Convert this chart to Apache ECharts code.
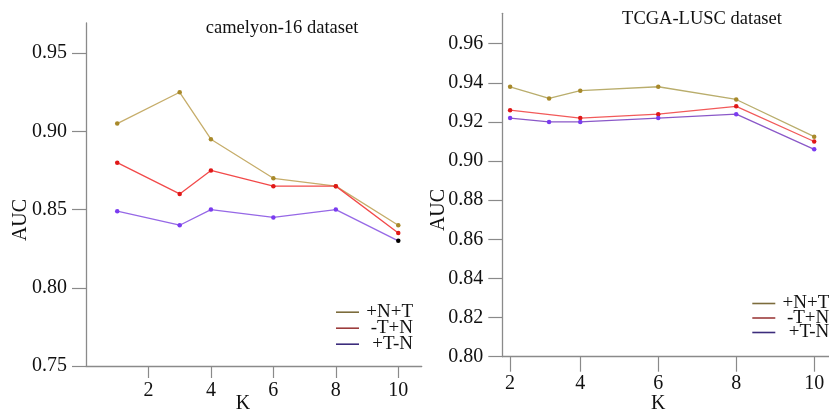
<!DOCTYPE html>
<html><head><meta charset="utf-8">
<script src="https://cdn.jsdelivr.net/npm/echarts@6/dist/echarts.min.js"></script>
<style>html,body{margin:0;padding:0;background:#fff}#c{width:829px;height:409px}</style>
</head><body><div id="c"></div>
<script>
// ---- data ----
const seriesNames = ['+N+T', '-T+N', '+T-N'];
// camelyon-16
const kCam = [1, 3, 4, 6, 8, 10];
const camNT = [0.905, 0.925, 0.895, 0.870, 0.865, 0.840];
const camTN = [0.880, 0.860, 0.875, 0.865, 0.865, 0.835];
const camTmN = [0.849, 0.840, 0.850, 0.845, 0.850, 0.830];
const camYTicks = [0.75, 0.80, 0.85, 0.90, 0.95];
const camXTicks = [2, 4, 6, 8, 10];
// TCGA-LUSC
const kTcga = [2.2, 3.2, 4, 6, 8, 10];
const kTcgaRed = [2.2, 4, 6, 8, 10];
const tcNT = [0.938, 0.932, 0.936, 0.938, 0.9315, 0.9125];
const tcTN = [0.926, 0.922, 0.924, 0.928, 0.910];
const tcTmN = [0.922, 0.920, 0.920, 0.922, 0.924, 0.906];
const tcYTicks = [0.80, 0.82, 0.84, 0.86, 0.88, 0.90, 0.92, 0.94, 0.96];
const tcXTicks = [2.2, 4, 6, 8, 10];
const tcXTickLabels = ['2', '4', '6', '8', '10'];

const pairs = (xs, ys) => xs.map((x, i) => [x, ys[i]]);

const SERIF = 'Liberation Serif';
const axisCol = '#8a8a8a';
const lineCols = ['#c6ad6a', '#f24a4a', '#9668e6'];
const lineColsR = ['#b9ad6c', '#f25a5a', '#8a58c8'];
const markCols = ['#a8892a', '#e01818', '#7a3cf0'];
const legCols = ['#7c6c3c', '#9c3c3c', '#3c2c7c'];

function yAxis(idx, min, max, ticks, gap, padR) {
  return {
    type: 'value', gridIndex: idx, min: min, max: max,
    name: 'AUC', nameLocation: 'middle', nameGap: gap, nameMoveOverlap: false,
    nameTextStyle: { fontFamily: SERIF, fontSize: 20, color: '#111', padding: [0, padR, 0, 0] },
    axisLine: { show: true, lineStyle: { color: axisCol, width: 1.3 } },
    axisTick: { show: true, length: 14, customValues: ticks, lineStyle: { color: axisCol, width: 1.2 } },
    axisLabel: { customValues: ticks, margin: 19, fontFamily: SERIF, fontSize: 20, color: '#111',
      formatter: v => v.toFixed(2) },
    splitLine: { show: false }
  };
}
function xAxis(idx, min, max, ticks, labels, gap, padR, tickLen, margin, fam, fs) {
  return {
    type: 'value', gridIndex: idx, min: min, max: max,
    name: 'K', nameLocation: 'middle', nameGap: gap, nameMoveOverlap: false,
    nameTextStyle: { fontFamily: SERIF, fontSize: 20, color: '#111', padding: [0, padR, 0, 0] },
    axisLine: { show: true, onZero: false, lineStyle: { color: axisCol, width: 1.3 } },
    axisTick: { show: true, length: tickLen, customValues: ticks, lineStyle: { color: axisCol, width: 1.2 } },
    axisLabel: { customValues: ticks, margin: margin, fontFamily: fam, fontSize: fs, color: '#111',
      formatter: v => labels ? labels[ticks.indexOf(v)] : String(v) },
    splitLine: { show: false }
  };
}
function ser(name, xi, data, ci, cols, markFn) {
  return {
    name: name, type: 'line', xAxisIndex: xi, yAxisIndex: xi, data: data,
    symbol: 'circle', symbolSize: 4.5, showSymbol: true,
    lineStyle: { color: cols[ci], width: 1.3 },
    itemStyle: { color: markFn || markCols[ci] },
    emphasis: { disabled: true }, animation: false
  };
}
function legend(left, top, gap) {
  return {
    orient: 'vertical', left: left, top: top, itemWidth: 23, itemHeight: 10, itemGap: gap,
    padding: 0, selectedMode: false,
    data: seriesNames.map((n, i) => ({ name: n, icon: 'path://M0 0H23V1.6H0Z', itemStyle: { color: legCols[i] } })),
    formatter: n => '{r|' + n + '}',
    textStyle: { rich: { r: { width: 49, align: 'right', fontFamily: SERIF, fontSize: 19, lineHeight: 16, color: '#111' } } }
  };
}

const chart = echarts.init(document.getElementById('c'));
chart.setOption({
  animation: false,
  title: [
    { text: 'camelyon-16 dataset', left: 282, top: 19, textAlign: 'center', padding: 0,
      textStyle: { fontFamily: SERIF, fontSize: 18.5, fontWeight: 'normal', color: '#111' } },
    { text: 'TCGA-LUSC dataset', left: 702, top: 10, textAlign: 'center', padding: 0,
      textStyle: { fontFamily: SERIF, fontSize: 18.5, fontWeight: 'normal', color: '#111' } }
  ],
  grid: [
    { left: 86, top: 23, width: 335.7, height: 343, containLabel: false, outerBoundsMode: 'none' },
    { left: 502.3, top: 13.3, width: 326.7, height: 343.4, containLabel: false, outerBoundsMode: 'none' }
  ],
  xAxis: [
    xAxis(0, 0, 10.75, camXTicks, null, 28, 22, 12, 15, SERIF, 20),
    xAxis(1, 2, 10.38, tcXTicks, tcXTickLabels, 37, 15, 15, 17, SERIF, 20)
  ],
  yAxis: [
    yAxis(0, 0.75, 0.9693, camYTicks, 55, 51),
    yAxis(1, 0.80, 0.97555, tcYTicks, 54, 50)
  ],
  legend: [legend(336, 302.7, -3), legend(752.3, 294, -4.5)],
  series: [
    ser('+N+T', 0, pairs(kCam, camNT), 0, lineCols),
    ser('-T+N', 0, pairs(kCam, camTN), 1, lineCols),
    ser('+T-N', 0, pairs(kCam, camTmN), 2, lineCols,
      p => p.dataIndex === kCam.length - 1 ? '#000' : markCols[2]),
    ser('+N+T', 1, pairs(kTcga, tcNT), 0, lineColsR),
    ser('-T+N', 1, pairs(kTcgaRed, tcTN), 1, lineColsR),
    ser('+T-N', 1, pairs(kTcga, tcTmN), 2, lineColsR)
  ]
});
</script>
</body></html>
